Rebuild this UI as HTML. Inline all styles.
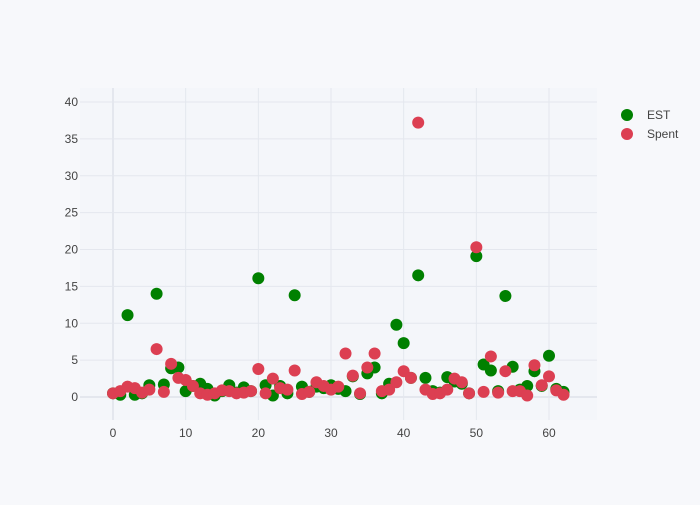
<!DOCTYPE html>
<html><head><meta charset="utf-8"><style>
body{margin:0;background:#f7f8fb;font-family:"Liberation Sans",sans-serif}
svg text{font-family:"Liberation Sans",sans-serif;fill:#444;font-size:12px}
</style></head><body>
<svg id="chart" width="700" height="500" xmlns="http://www.w3.org/2000/svg">
<rect x="0" y="0" width="700" height="500" fill="#f7f8fb"/>
<rect x="80" y="88" width="517" height="332" fill="#f4f6fa"/>
<g id="grid"></g>
<g id="ticks"></g>
<g id="est"></g>
<g id="spent"></g>
<g>
<g><circle cx="627" cy="115" r="6" fill="#008000"/><text x="647" y="119">EST</text></g>
<g><circle cx="627" cy="134" r="6" fill="#dc3f52"/><text x="647" y="138">Spent</text></g>
</g>
</svg>
<script>
const xTicks=[0,10,20,30,40,50,60];
const yTicks=[0,5,10,15,20,25,30,35,40];
const estValues=[0.5,0.3,11.1,0.3,0.5,1.6,14,1.7,3.9,4,0.8,1.5,1.8,1.1,0.2,0.8,1.6,0.6,1.3,0.8,16.1,1.6,0.2,1.5,0.5,13.8,1.4,0.7,1.4,1.2,1.6,1.1,0.8,2.8,0.4,3.2,4.0,0.5,1.8,9.8,7.3,2.6,16.5,2.6,0.8,0.6,2.7,2.1,1.8,0.5,19.1,4.4,3.6,0.8,13.7,4.1,1.0,1.5,3.5,1.5,5.6,1.1,0.7];
const spentValues=[0.5,0.8,1.4,1.2,0.6,1.0,6.5,0.7,4.5,2.6,2.3,1.5,0.5,0.3,0.5,0.9,0.8,0.5,0.6,0.8,3.8,0.5,2.5,1.2,1.0,3.6,0.4,0.7,2.0,1.5,1.0,1.4,5.9,2.9,0.5,4.0,5.9,0.8,1.0,2.0,3.5,2.6,37.2,1.0,0.4,0.5,1.0,2.5,2.0,0.5,20.3,0.7,5.5,0.6,3.5,0.8,0.8,0.2,4.3,1.6,2.8,0.9,0.3];
const NS='http://www.w3.org/2000/svg';
const xs=v=>113+v*(549-113)/60;
const ys=v=>397-v*(397-102)/40;
function mk(tag,attrs,parent){const e=document.createElementNS(NS,tag);for(const k in attrs)e.setAttribute(k,attrs[k]);parent.appendChild(e);return e;}
const grid=document.getElementById('grid'),ticks=document.getElementById('ticks');
xTicks.forEach(t=>{
  const l=mk('line',{x1:xs(t),x2:xs(t),y1:88,y2:420,stroke:'#e4e7ee','stroke-width':t===0?2:1},grid);
  
  
  const tx=mk('text',{x:xs(t),y:437,'text-anchor':'middle'},ticks);tx.textContent=t;
  
  
});
yTicks.forEach(t=>{
  const l=mk('line',{x1:80,x2:597,y1:ys(t),y2:ys(t),stroke:'#e4e7ee','stroke-width':t===0?2:1},grid);
  
  
  const tx=mk('text',{x:78,y:ys(t)+4,'text-anchor':'end'},ticks);tx.textContent=t;
  
  
});
function series(vals,id,color,name){
  const g=document.getElementById(id);
  vals.forEach((v,i)=>{
    const c=mk('circle',{cx:xs(i),cy:ys(v),r:6,fill:color},g);
    
    
  });
}
series(estValues,'est','#008000','est-point');
series(spentValues,'spent','#dc3f52','spent-point');
</script>
</body></html>
